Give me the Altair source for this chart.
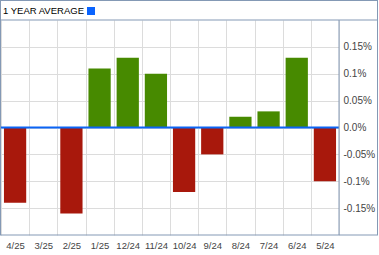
import altair as alt
import pandas as pd

months = ["4/25", "3/25", "2/25", "1/25", "12/24", "11/24", "10/24", "9/24", "8/24", "7/24", "6/24", "5/24"]
values = [-0.14, 0.0, -0.16, 0.11, 0.13, 0.10, -0.12, -0.05, 0.02, 0.03, 0.13, -0.10]
y_ticks = [0.15, 0.1, 0.05, 0, -0.05, -0.1, -0.15]
y_labels = ["0.15%", "0.1%", "0.05%", "0.0%", "-0.05%", "-0.1%", "-0.15%"]
header = "1 YEAR AVERAGE"

GREEN = "#478a00"
RED = "#a8180c"
BLUE = "#0a64f5"
BORDER = "#8499b5"
GRID = "#dcdcdc"
FONT = "Liberation Sans"

W, H = 338, 215

label_expr = " : ".join(
    f"datum.value == {v} ? '{l}'" for v, l in zip(y_ticks, y_labels)
) + " : ''"

df = pd.DataFrame({"month": months, "value": values})
one = pd.DataFrame({"a": [0]})

y_enc = alt.Y("value:Q", title=None,
              scale=alt.Scale(domain=[-0.2, 0.2], nice=False),
              axis=alt.Axis(orient="right", values=y_ticks, labelExpr=label_expr,
                            grid=True, gridColor=GRID, ticks=False, domain=False,
                            labelFont=FONT, labelFontSize=10, labelColor="#444",
                            labelPadding=4))

bars = alt.Chart(df).mark_bar(width=alt.RelativeBandSize(0.79)).encode(
    x=alt.X("month:N", sort=months, title=None,
            scale=alt.Scale(paddingInner=0, paddingOuter=0),
            axis=alt.Axis(grid=True, tickBand="extent", gridColor=GRID, ticks=False,
                          domain=False, labelAngle=0, labelFont=FONT, labelFontSize=9.5,
                          labelColor="#444", labelPadding=5)),
    y=y_enc,
    color=alt.condition("datum.value > 0", alt.value(GREEN), alt.value(RED)),
)

zero = alt.Chart(pd.DataFrame({"value": [0]})).mark_rule(color=BLUE, strokeWidth=2).encode(
    y=y_enc
)

title_text = alt.Chart(one).mark_text(
    text=header, align="left", baseline="middle", font=FONT, fontSize=9.5, color="#000"
).encode(x=alt.value(2), y=alt.value(-9.5))

square = alt.Chart(one).mark_rect(color="#0a64ff").encode(
    x=alt.value(86), x2=alt.value(94), y=alt.value(-13), y2=alt.value(-5)
)

def rule(x1, x2, y1, y2):
    return alt.Chart(one).mark_rule(color=BORDER, strokeWidth=1).encode(
        x=alt.value(x1), x2=alt.value(x2), y=alt.value(y1), y2=alt.value(y2)
    )

borders = [
    rule(-1, 377, -19.5, -19.5),   # top
    rule(-1, 377, 0, 0),           # header line
    rule(-1, 377, H, H),           # bottom
    rule(-0.5, -0.5, -20, H),      # left
    rule(W, W, 0, H),              # divider
    rule(376.5, 376.5, -20, H),    # right
]

chart = alt.layer(bars, zero, title_text, square, *borders).properties(
    width=W, height=H,
    autosize="none",
    padding={"left": 1, "top": 20, "right": 40, "bottom": 20},
    background="white",
).configure_view(stroke=None)

chart.save("out.html", embed_options={"renderer": "svg", "actions": False})
